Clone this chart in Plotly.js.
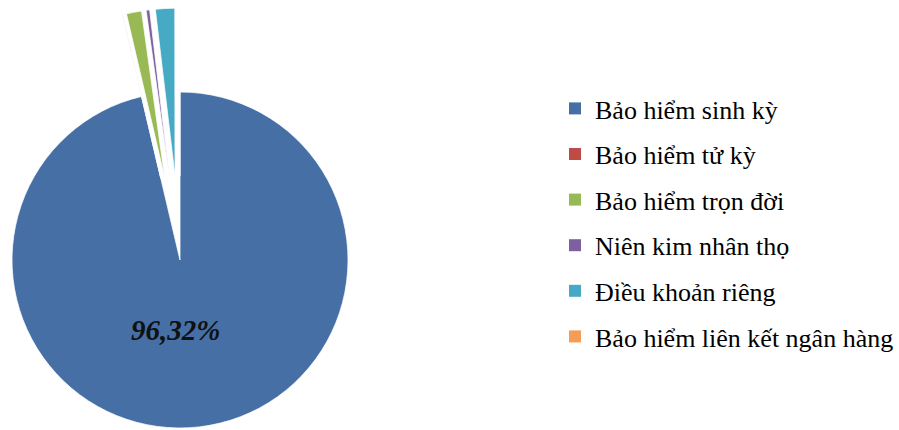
<!DOCTYPE html>
<html>
<head>
<meta charset="utf-8">
<script src="https://cdn.plot.ly/plotly-3.0.1.min.js"></script>
<style>
html, body { margin: 0; padding: 0; overflow: hidden; background: #fff; width: 899px; height: 430px; }
#chart { position: absolute; left: -72px; top: 0; width: 971px; height: 520px; }
</style>
</head>
<body>
<div id="chart"></div>
<script>
// Data
var categories = [
  "Bảo hiểm sinh kỳ",
  "Bảo hiểm tử kỳ",
  "Bảo hiểm trọn đời",
  "Niên kim nhân thọ",
  "Điều khoản riêng",
  "Bảo hiểm liên kết ngân hàng"
];
var shares = [96.32, 0.03, 1.45, 0.33, 1.85, 0.02];
var colors = ["#4670A5", "#BE4B48", "#98B954", "#7D60A0", "#46AAC5", "#F59D56"];
var pulls = [0, 0.5, 0.5, 0.5, 0.5, 0.5];

var mainLabel = shares[0].toFixed(2).replace('.', ',') + '%';

// Legend entries: one pie trace per category (tiny, hidden under the main pie),
// each in its own legend group so the rows can be spaced like the reference.
var legendTraces = categories.map(function (c, i) {
  return {
    type: 'pie',
    labels: [c],
    values: [shares[i]],
    marker: { colors: [colors[i]], line: { width: 0 } },
    textinfo: 'none',
    hoverinfo: 'none',
    sort: false,
    legendgroup: 'g' + i,
    showlegend: true,
    domain: { x: [0.25, 0.2501], y: [0.4, 0.4001] }
  };
});

var mainTrace = {
  type: 'pie',
  labels: categories,
  values: shares,
  textinfo: 'none',
  marker: { colors: colors, line: { color: '#ffffff', width: 0.75 } },
  pull: pulls,
  sort: false,
  direction: 'clockwise',
  rotation: 0,
  hoverinfo: 'none',
  showlegend: false,
  domain: { x: [0, 504 / 971], y: [0, 1] }
};

var layout = {
  width: 971,
  height: 520,
  margin: { l: 0, r: 0, t: 0, b: 0 },
  paper_bgcolor: '#ffffff',
  font: { family: 'Liberation Serif', color: '#000' },
  showlegend: true,
  legend: {
    x: 627 / 971,
    xanchor: 'left',
    y: 1 - 85 / 520,
    yanchor: 'top',
    tracegroupgap: 8.8,
    font: { family: 'Liberation Serif', size: 26, color: '#000' },
    bgcolor: 'rgba(0,0,0,0)'
  },
  annotations: [{
    text: mainLabel,
    xref: 'paper', yref: 'paper',
    x: 247 / 971, y: 1 - 330 / 520,
    xanchor: 'center', yanchor: 'middle',
    showarrow: false,
    font: { family: 'Liberation Serif', size: 29, color: '#111', weight: 'bold', style: 'italic' }
  }]
};

Plotly.newPlot('chart', legendTraces.concat([mainTrace]), layout, { displayModeBar: false, staticPlot: true });
</script>
</body>
</html>
